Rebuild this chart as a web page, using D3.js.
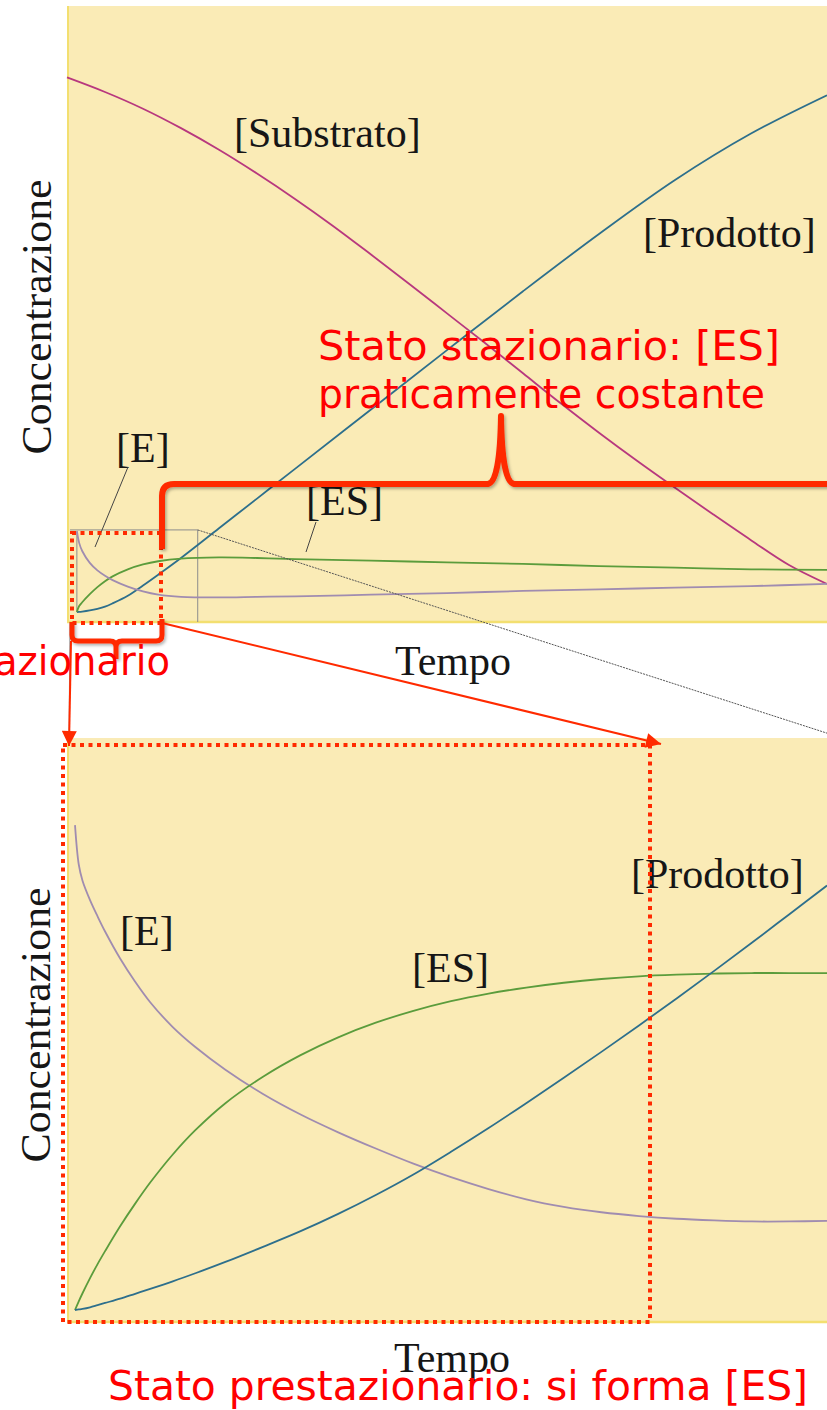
<!DOCTYPE html>
<html>
<head>
<meta charset="utf-8">
<script src="https://cdn.jsdelivr.net/npm/d3@7"></script>
<style>
  body { margin: 0; background: #fff; }
  svg { display: block; }
</style>
</head>
<body>
<div id="chart"></div>
<script>
// ---- data (concentrations in arbitrary units) ----
var timeLong = [0, 5, 10, 15, 20, 25, 30, 35, 40, 45, 50, 55, 60, 65, 70, 75, 80, 85, 90, 95, 100];
var substrato = [99.0, 96.3, 93.2, 89.6, 85.6, 81.2, 76.5, 71.5, 66.2, 60.8, 55.3, 49.8, 44.2, 38.6, 33.2, 28.0, 23.0, 18.1, 13.3, 8.7, 5.2];

var timeShort = [1.3, 1.6, 2, 3, 4, 5, 6, 8, 10, 12, 15, 20, 25, 30, 40, 50, 60, 70, 80, 90, 100];
var prodottoTop = [0, 0.02, 0.08, 0.3, 0.6, 1.0, 1.6, 3.0, 4.9, 6.9, 10.0, 15.5, 21.0, 26.5, 37.5, 48.5, 59.4, 70.0, 80.0, 88.6, 95.7];
var esTop = [0, 1.1, 1.8, 3.3, 4.6, 5.7, 6.6, 7.9, 8.8, 9.4, 9.9, 10.1, 10.0, 9.8, 9.5, 9.2, 8.9, 8.5, 8.2, 7.9, 7.8];
var eTop = [15.0, 12.8, 11.3, 9.1, 7.7, 6.7, 5.9, 4.7, 3.8, 3.2, 2.8, 2.7, 2.8, 2.9, 3.2, 3.5, 3.9, 4.2, 4.5, 4.8, 5.2];

// window of the top chart that is blown up below
var zoomRange = [0.4, 17.2], zoomTop = 15.2, zoomAxisT = 1.3;

var timeBot = [0, 0.5, 1, 2, 3, 4, 6, 8, 10, 13, 16, 20, 25, 30, 35, 40, 45, 50, 55, 60, 65, 70, 75, 80, 85, 90, 95, 100];
var eBot = [89.8, 82.5, 79.5, 75.9, 72.9, 70.1, 65.1, 60.8, 57.0, 52.4, 48.7, 44.5, 40.0, 36.2, 32.9, 29.9, 27.1, 24.6, 22.4, 20.5, 19.1, 18.1, 17.4, 16.9, 16.6, 16.4, 16.4, 16.5];
var esBot = [0, 1.6, 3.1, 5.9, 8.5, 10.9, 15.5, 19.7, 23.6, 28.8, 33.3, 38.3, 43.2, 47.2, 50.5, 53.2, 55.4, 57.2, 58.6, 59.7, 60.6, 61.3, 61.8, 62.1, 62.3, 62.4, 62.4, 62.4];
var prodottoBot = [0, 0.1, 0.2, 0.5, 0.9, 1.3, 2.1, 3.0, 3.9, 5.3, 6.8, 8.9, 11.7, 14.6, 17.8, 21.3, 25.1, 29.3, 33.7, 38.3, 43.0, 47.8, 52.7, 57.7, 62.8, 68.0, 73.3, 78.6];

var colors = { substrato: "#b8387e", prodotto: "#2d6f8c", es: "#5b9c3c", e: "#a08cb0" };
var red = "#ff2a00";

// ---- setup ----
var W = 827, H = 1410;
var svg = d3.select("#chart").append("svg").attr("width", W).attr("height", H);

var defs = svg.append("defs");
defs.append("filter").attr("id", "shadow")
    .append("feDropShadow")
    .attr("dx", 1.5).attr("dy", 2).attr("stdDeviation", 1.5)
    .attr("flood-color", "#000").attr("flood-opacity", 0.3);
defs.append("marker")
    .attr("id", "arrow")
    .attr("viewBox", "0 0 10 10")
    .attr("refX", 10).attr("refY", 5)
    .attr("markerWidth", 16).attr("markerHeight", 15)
    .attr("markerUnits", "userSpaceOnUse")
    .attr("orient", "auto")
    .append("path").attr("d", "M0,0 L10,5 L0,10 Z").attr("fill", red);

var serif = "'Liberation Serif', 'Times New Roman', serif";
var comic = "'Comic Sans MS', 'DejaVu Sans Condensed', 'DejaVu Sans', sans-serif";

function toPoints(times, values) {
    return times.map(function(t, i) { return { t: t, v: values[i] }; });
}

function panel(x0, y0, x1, y1) {
    svg.append("rect")
        .attr("x", x0).attr("y", y0)
        .attr("width", x1 - x0).attr("height", y1 - y0)
        .attr("fill", "#faebb6");
    svg.append("line")
        .attr("x1", x0 + 1).attr("y1", y0).attr("x2", x0 + 1).attr("y2", y1)
        .attr("stroke", "#f3df70").attr("stroke-width", 2);
    svg.append("line")
        .attr("x1", x0).attr("y1", y1).attr("x2", x1).attr("y2", y1)
        .attr("stroke", "#f3df70").attr("stroke-width", 2.5);
}

function label(txt, x, y, size) {
    return svg.append("text")
        .attr("x", x).attr("y", y)
        .attr("font-family", serif).attr("font-size", size || 42)
        .attr("fill", "#161616")
        .text(txt);
}

function yLabel(cx, cy) {
    svg.append("text")
        .attr("transform", "translate(" + cx + "," + cy + ") rotate(-90)")
        .attr("text-anchor", "middle")
        .attr("font-family", serif).attr("font-size", 42)
        .attr("textLength", 275).attr("lengthAdjust", "spacingAndGlyphs")
        .attr("fill", "#161616")
        .text("Concentrazione");
}

// ---- top chart ----
var xTop = d3.scaleLinear().domain([0, 100]).range([67, 827]);
var yTop = d3.scaleLinear().domain([0, 100]).range([612, 72]);
var lineTop = d3.line()
    .x(function(d) { return xTop(d.t); })
    .y(function(d) { return yTop(d.v); })
    .curve(d3.curveCatmullRom.alpha(0.5));

panel(67, 6, 827, 622);

// gray frame of the zoomed region
var gz = svg.append("g").attr("stroke", "#8c8c8c").attr("stroke-width", 1).attr("fill", "none");
gz.append("path").attr("d",
    "M" + xTop(zoomRange[0]) + "," + yTop(zoomTop) +
    "H" + xTop(zoomRange[1]) + "V622");
gz.append("line")
    .attr("x1", xTop(zoomAxisT)).attr("y1", yTop(zoomTop) + 2)
    .attr("x2", xTop(zoomAxisT)).attr("y2", yTop(0));

var topSeries = [
    { data: toPoints(timeLong, substrato), color: colors.substrato },
    { data: toPoints(timeShort, prodottoTop), color: colors.prodotto },
    { data: toPoints(timeShort, esTop), color: colors.es },
    { data: toPoints(timeShort, eTop), color: colors.e }
];
svg.append("g").selectAll("path")
    .data(topSeries)
    .enter().append("path")
    .attr("d", function(d) { return lineTop(d.data); })
    .attr("fill", "none")
    .attr("stroke", function(d) { return d.color; })
    .attr("stroke-width", 1.8);

label("[Substrato]", 234, 147);
label("[Prodotto]", 643, 247);
label("[E]", 116, 462);
label("[ES]", 306, 515);
svg.append("line").attr("x1", 128).attr("y1", 467).attr("x2", 95).attr("y2", 547)
    .attr("stroke", "#444").attr("stroke-width", 1);
svg.append("line").attr("x1", 316).attr("y1", 522).attr("x2", 306).attr("y2", 552)
    .attr("stroke", "#444").attr("stroke-width", 1);

yLabel(51, 317);
svg.append("text").attr("x", 453).attr("y", 675)
    .attr("text-anchor", "middle")
    .attr("font-family", serif).attr("font-size", 42).attr("fill", "#161616")
    .text("Tempo");

// ---- bottom chart ----
var xBot = d3.scaleLinear().domain([0, 100]).range([75, 827]);
var yBot = d3.scaleLinear().domain([0, 100]).range([1310, 770]);
var lineBot = d3.line()
    .x(function(d) { return xBot(d.t); })
    .y(function(d) { return yBot(d.v); })
    .curve(d3.curveCatmullRom.alpha(0.5));

panel(67, 738, 827, 1322);

var botSeries = [
    { data: toPoints(timeBot, eBot), color: colors.e },
    { data: toPoints(timeBot, esBot), color: colors.es },
    { data: toPoints(timeBot, prodottoBot), color: colors.prodotto }
];
svg.append("g").selectAll("path")
    .data(botSeries)
    .enter().append("path")
    .attr("d", function(d) { return lineBot(d.data); })
    .attr("fill", "none")
    .attr("stroke", function(d) { return d.color; })
    .attr("stroke-width", 1.8);

label("[E]", 120, 945);
label("[ES]", 412, 982);
label("[Prodotto]", 631, 888);
yLabel(50, 1025);
svg.append("text").attr("x", 452).attr("y", 1372)
    .attr("text-anchor", "middle")
    .attr("font-family", serif).attr("font-size", 42).attr("fill", "#161616")
    .text("Tempo");

// dashed connector from the zoom frame towards the lower chart
svg.append("line")
    .attr("x1", xTop(zoomRange[1])).attr("y1", yTop(zoomTop))
    .attr("x2", 842).attr("y2", 738)
    .attr("stroke", "#555").attr("stroke-width", 1)
    .attr("stroke-dasharray", "2,1");
svg.append("line")
    .attr("x1", 70).attr("y1", 622).attr("x2", 69).attr("y2", 738)
    .attr("stroke", "#999").attr("stroke-width", 1);

// ---- red annotations ----
var ann = svg.append("g");

ann.append("rect")
    .attr("x", 72).attr("y", 533).attr("width", 89).attr("height", 90)
    .attr("fill", "none").attr("stroke", red).attr("stroke-width", 4)
    .attr("stroke-dasharray", "4,4.5");
ann.append("rect")
    .attr("x", 63).attr("y", 745).attr("width", 587).attr("height", 577)
    .attr("fill", "none").attr("stroke", red).attr("stroke-width", 4)
    .attr("stroke-dasharray", "4,4.5");

// big curly bracket
ann.append("path")
    .attr("d", "M162,549 V496 Q162,484 174,484 H488 Q500,482 501,416 Q502,482 514,484 H830")
    .attr("fill", "none").attr("stroke", red).attr("stroke-width", 6)
    .attr("stroke-linejoin", "round")
    .attr("filter", "url(#shadow)");

// small bracket under the pre-steady-state window
ann.append("path")
    .attr("d", "M72,622 V635 Q72,641 78,641 H110 Q116,641 116,647 V659 M116,647 Q116,641 122,641 H156 Q162,641 162,635 V619")
    .attr("fill", "none").attr("stroke", red).attr("stroke-width", 5)
    .attr("stroke-linejoin", "round")
    .attr("filter", "url(#shadow)");

ann.append("line")
    .attr("x1", 71).attr("y1", 641).attr("x2", 69).attr("y2", 746)
    .attr("stroke", red).attr("stroke-width", 2)
    .attr("marker-end", "url(#arrow)");
ann.append("line")
    .attr("x1", 162).attr("y1", 623).attr("x2", 661).attr("y2", 744)
    .attr("stroke", red).attr("stroke-width", 2)
    .attr("marker-end", "url(#arrow)");

function redText(txt, x, y, len, anchor) {
    ann.append("text")
        .attr("x", x).attr("y", y)
        .attr("text-anchor", anchor || "start")
        .attr("font-family", comic).attr("font-size", 40)
        .attr("textLength", len).attr("lengthAdjust", "spacingAndGlyphs")
        .attr("fill", "#ff0000")
        .text(txt);
}
redText("Stato stazionario: [ES]", 318, 360, 462);
redText("praticamente costante", 318, 408, 447);
redText("Stato prestazionario", 170, 675, 388, "end");
redText("Stato prestazionario: si forma [ES]", 108, 1400, 700);
</script>
</body>
</html>
